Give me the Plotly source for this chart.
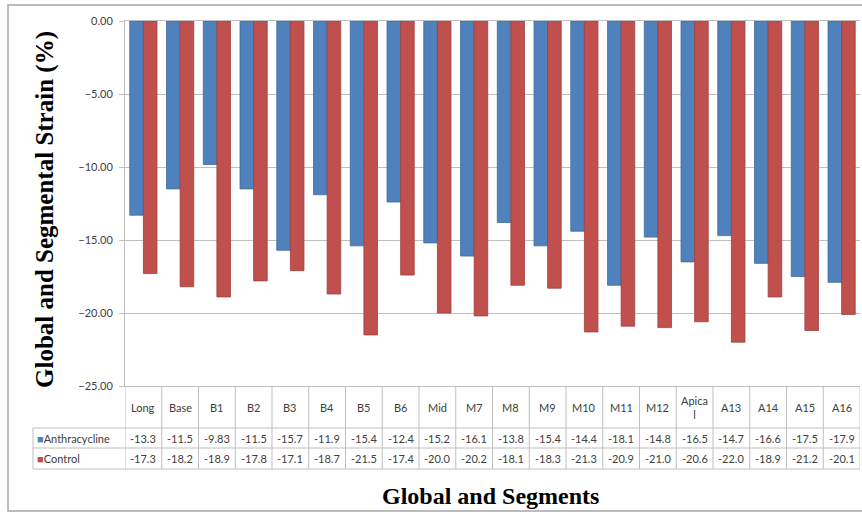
import plotly.graph_objects as go

categories = ["Long", "Base", "B1", "B2", "B3", "B4", "B5", "B6", "Mid", "M7",
              "M8", "M9", "M10", "M11", "M12", "Apical", "A13", "A14", "A15", "A16"]
header_labels = ["Long", "Base", "B1", "B2", "B3", "B4", "B5", "B6", "Mid", "M7",
                 "M8", "M9", "M10", "M11", "M12", "Apica<br>l", "A13", "A14", "A15", "A16"]
anthracycline = [-13.3, -11.5, -9.83, -11.5, -15.7, -11.9, -15.4, -12.4, -15.2, -16.1,
                 -13.8, -15.4, -14.4, -18.1, -14.8, -16.5, -14.7, -16.6, -17.5, -17.9]
control = [-17.3, -18.2, -18.9, -17.8, -17.1, -18.7, -21.5, -17.4, -20.0, -20.2,
           -18.1, -18.3, -21.3, -20.9, -21.0, -20.6, -22.0, -18.9, -21.2, -20.1]
anth_text = ["-13.3", "-11.5", "-9.83", "-11.5", "-15.7", "-11.9", "-15.4", "-12.4", "-15.2", "-16.1",
             "-13.8", "-15.4", "-14.4", "-18.1", "-14.8", "-16.5", "-14.7", "-16.6", "-17.5", "-17.9"]
ctrl_text = ["-17.3", "-18.2", "-18.9", "-17.8", "-17.1", "-18.7", "-21.5", "-17.4", "-20.0", "-20.2",
             "-18.1", "-18.3", "-21.3", "-20.9", "-21.0", "-20.6", "-22.0", "-18.9", "-21.2", "-20.1"]
series_names = ["Anthracycline", "Control"]

W, H = 862, 514
L, R, T, B = 125, 2, 21, 128
pw, ph = W - L - R, H - T - B

def px(x):
    return (x - L) / pw

def py(y):
    return (H - B - y) / ph

BLUE = "#4F81BD"
RED = "#C0504D"
GRID = "#BFBFBF"
TXT = "#404040"
FONT = "Lato"

fig = go.Figure()
idx = list(range(len(categories)))
fig.add_trace(go.Bar(x=idx, y=anthracycline, name=series_names[0],
                     marker=dict(color=BLUE, line=dict(color="#3F6B9E", width=0.8))))
fig.add_trace(go.Bar(x=idx, y=control, name=series_names[1],
                     marker=dict(color=RED, line=dict(color="#A03F3C", width=0.8))))

annotations = []
shapes = []

def note(**kw):
    d = dict(showarrow=False, xanchor="center", yanchor="middle")
    d.update(kw)
    annotations.append(d)

# table rows
y_head = py(407)
y_anth = py(438)
y_ctrl = py(458.5)
for i in idx:
    note(x=i, y=y_head, xref="x", yref="paper", text=header_labels[i],
         font=dict(family=FONT, size=11, color=TXT))
    note(x=i, y=y_anth, xref="x", yref="paper", text=anth_text[i],
         font=dict(family=FONT, size=11, color=TXT))
    note(x=i, y=y_ctrl, xref="x", yref="paper", text=ctrl_text[i],
         font=dict(family=FONT, size=11, color=TXT))

note(x=px(35), y=y_anth, xref="paper", yref="paper", xanchor="left",
     text=f'<span style="color:{BLUE}">■</span>{series_names[0]}',
     font=dict(family=FONT, size=11, color=TXT))
note(x=px(35), y=y_ctrl, xref="paper", yref="paper", xanchor="left",
     text=f'<span style="color:{RED}">■</span>{series_names[1]}',
     font=dict(family=FONT, size=11, color=TXT))

# table grid lines
y_bot = py(469)
for i in range(len(categories) + 1):
    shapes.append(dict(type="line", xref="x", yref="paper", x0=i - 0.5, x1=i - 0.5,
                       y0=0, y1=y_bot, line=dict(color=GRID, width=1)))
for yy in [py(428), py(448), y_bot]:
    shapes.append(dict(type="line", xref="paper", yref="paper", x0=px(33), x1=1,
                       y0=yy, y1=yy, line=dict(color=GRID, width=1)))
shapes.append(dict(type="line", xref="paper", yref="paper", x0=px(33), x1=px(33),
                   y0=py(428), y1=y_bot, line=dict(color=GRID, width=1)))

# outer frame
shapes.append(dict(type="rect", xref="paper", yref="paper", x0=px(8), x1=px(880),
                   y0=py(511), y1=py(5), line=dict(color="#A6A6A6", width=1.5)))

# titles
note(x=px(490), y=py(496), xref="paper", yref="paper",
     text="<b>Global and Segments</b>",
     font=dict(family="Liberation Serif", size=24, color="#000000"))
note(x=px(45), y=py(210), xref="paper", yref="paper", textangle=-90,
     text="<b>Global and Segmental Strain (%)</b>",
     font=dict(family="Liberation Serif", size=25, color="#000000"))

fig.update_layout(
    width=W, height=H,
    margin=dict(l=L, r=R, t=T, b=B, autoexpand=False),
    paper_bgcolor="white", plot_bgcolor="white",
    barmode="group", bargap=0.26, bargroupgap=0,
    showlegend=False,
    annotations=annotations, shapes=shapes,
    xaxis=dict(range=[-0.5, len(categories) - 0.5], showticklabels=False, showgrid=False,
               showline=True, mirror=True, linecolor=GRID, linewidth=1, zeroline=False),
    yaxis=dict(range=[-25, 0], dtick=5, tickformat=".2f", showgrid=True, gridcolor=GRID,
               gridwidth=1, zeroline=False, showline=True, linecolor=GRID, linewidth=1,
               ticks="outside", ticklen=5, tickcolor=GRID, ticklabelstandoff=4,
               tickfont=dict(family=FONT, size=11, color=TXT)),
)

fig.write_html("out.html", config={"displayModeBar": False},
               post_script="document.body.style.margin='0';document.body.style.overflow='hidden';")
